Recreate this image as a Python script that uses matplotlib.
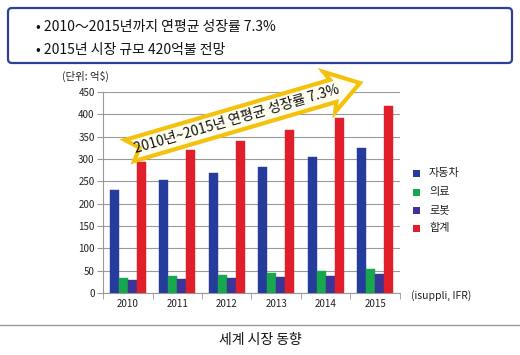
import numpy as np
import matplotlib
matplotlib.use("Agg")
import matplotlib.pyplot as plt
from matplotlib.patches import FancyBboxPatch, Polygon

plt.rcParams['font.family'] = ['Noto Sans CJK KR', 'DejaVu Sans']

years = ['2010', '2011', '2012', '2013', '2014', '2015']
series_names = ['자동차', '의료', '로봇', '합계']
car = [230, 253, 268, 283, 304, 324]
medical = [33, 37, 40, 45, 49, 54]
robot = [30, 32, 33, 35, 38, 42]
total = [293, 320, 341, 364, 391, 418]
colors = ['#253c9c', '#17a74c', '#3b3597', '#e01f2a']
yticks = [0, 50, 100, 150, 200, 250, 300, 350, 400, 450]

W, H = 520, 355
fig = plt.figure(figsize=(W / 100, H / 100), dpi=100)

ax = fig.add_axes([103 / W, 1 - 293 / H, 297 / W, 201 / H])
x = np.arange(len(years))
bw = 0.18
for i, (vals, c) in enumerate(zip([car, medical, robot, total], colors)):
    ax.bar(x + (i - 1.5) * bw, vals, bw, color=c, edgecolor=c, linewidth=0.3,
           label=series_names[i], zorder=3)
ax.set_xlim(-0.5, len(years) - 0.5)
ax.set_ylim(0, 450)
ax.set_yticks(yticks)
ax.set_yticklabels([str(v) for v in yticks], fontsize=7, color='#222222')
ax.set_xticks(x)
ax.set_xticklabels(years, fontsize=7, color='#222222')
ax.tick_params(axis='x', length=0, pad=4)
ax.set_xticks(np.arange(-0.5, len(years)), minor=True)
ax.tick_params(axis='x', which='minor', length=4, color='#999999')
ax.tick_params(axis='y', length=4, color='#999999', pad=2)
ax.grid(axis='y', color='#9a9a9a', linewidth=0.8, zorder=0)
for s in ['top', 'right']:
    ax.spines[s].set_visible(False)
ax.spines['left'].set_color('#999999')
ax.spines['bottom'].set_color('#999999')

# overlay in pixel coordinates
ov = fig.add_axes([0, 0, 1, 1], zorder=5)
ov.set_xlim(0, W)
ov.set_ylim(H, 0)
ov.axis('off')
ov.patch.set_alpha(0)

box = FancyBboxPatch((8, 8), 504, 55, boxstyle='round,pad=0,rounding_size=4',
                     facecolor='white', edgecolor='#2f3f99', linewidth=1.6)
ov.add_patch(box)
ov.text(36, 27, '• 2010～2015년까지 연평균 성장률 7.3%', fontsize=10, va='center', ha='left', color='#111111')
ov.text(36, 50, '• 2015년 시장 규모 420억불 전망', fontsize=10, va='center', ha='left', color='#111111')

ov.text(62, 76, '(단위: 억$)', fontsize=7.5, va='center', ha='left', color='#222222')

# arrow
sx, sy = 128, 151
ex, ey = 360, 83
L = np.hypot(ex - sx, ey - sy)
d = np.array([(ex - sx) / L, (ey - sy) / L])
n = np.array([d[1], -d[0]])  # perpendicular (toward up on screen)
h, Hh, hl = 11.5, 21, 28
local = [(0, h), (L - hl, h), (L - hl - 4, Hh), (L, 0), (L - hl - 4, -Hh), (L - hl, -h), (3, -h), (12, 0)]
pts = [(sx + u * d[0] + v * n[0], sy + u * d[1] + v * n[1]) for u, v in local]
ov.add_patch(Polygon(pts, closed=True, facecolor='#fffef0', edgecolor='#f4c20d', linewidth=3, joinstyle='miter'))
ang = np.degrees(np.arctan2(-(ey - sy), ex - sx))
cx, cy = sx + 0.47 * L * d[0], sy + 0.47 * L * d[1]
ov.text(cx, cy, '2010년~2015년 연평균 성장률 7.3%', fontsize=10, rotation=ang,
        rotation_mode='anchor', ha='center', va='center', color='#111111')

# legend
ly = [173, 192, 210, 228]
for yy, c, name in zip(ly, colors, series_names):
    ov.add_patch(plt.Rectangle((413, yy - 3.5), 7, 7, facecolor=c, edgecolor='none'))
    ov.text(429, yy, name, fontsize=8, va='center', ha='left', color='#222222')

ov.text(411, 296, '(isuppli, IFR)', fontsize=7.5, va='center', ha='left', color='#222222')

ov.plot([0, W], [325, 325], color='#999999', linewidth=1)
ov.text(W / 2, 340, '세계 시장 동향', fontsize=10, fontweight='medium', va='center', ha='center', color='#111111')

fig.savefig('out.png', dpi=100)
